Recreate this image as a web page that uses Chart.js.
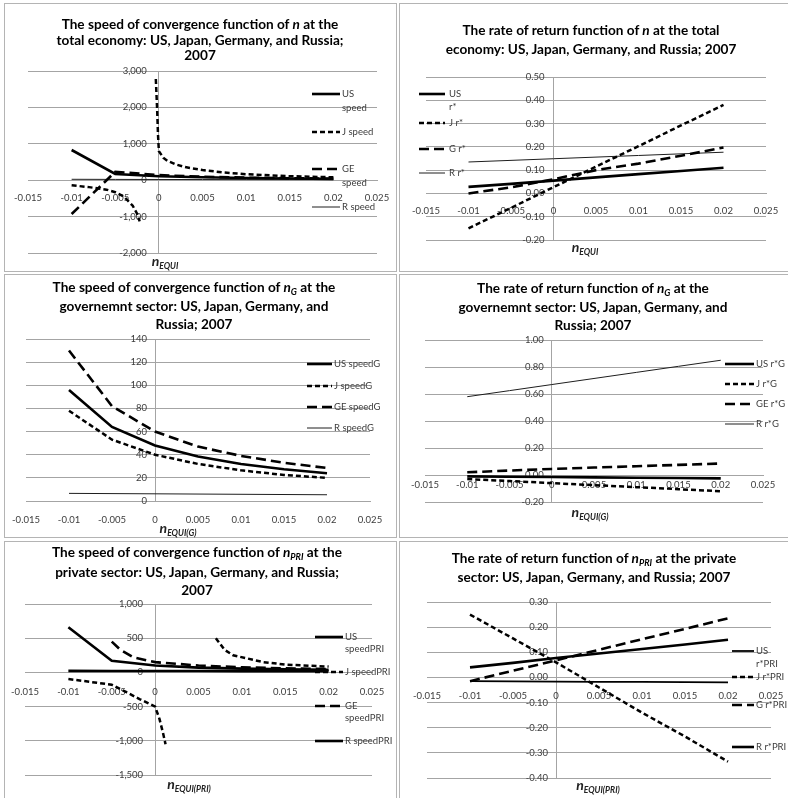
<!DOCTYPE html>
<html>
<head>
<meta charset="utf-8">
<script src="https://cdn.jsdelivr.net/npm/chart.js@4.4.1/dist/chart.umd.min.js"></script>
<style>
  body { margin: 0; background: #fff; width: 788px; height: 798px; overflow: hidden; position: relative; font-family: Lato, sans-serif; }
  .panel { position: absolute; border: 1px solid #b4b4b4; box-sizing: border-box; }
  canvas { position: absolute; }
  .ttl { position: absolute; transform: translate(-50%, -50%); white-space: nowrap; font-weight: bold; font-size: 13.6px; color: #000; line-height: 1; }
  .ttl sub { font-size: 9px; vertical-align: -3px; font-style: italic; }
  .axt { position: absolute; transform: translate(-50%, -50%); white-space: nowrap; font-weight: bold; font-style: italic; font-size: 14px; color: #222; line-height: 1; }
  .axt sub { font-size: 8.5px; vertical-align: -3px; }
</style>
</head>
<body>

<div class="panel" style="left:4px;top:3px;width:393px;height:269px"></div>
<div class="panel" style="left:399px;top:3px;width:395px;height:269px"></div>
<div class="panel" style="left:4px;top:274px;width:393px;height:264px"></div>
<div class="panel" style="left:399px;top:274px;width:395px;height:264px"></div>
<div class="panel" style="left:4px;top:541px;width:393px;height:270px"></div>
<div class="panel" style="left:399px;top:541px;width:395px;height:270px"></div>

<canvas id="c1" width="392" height="268" style="left:4px;top:3px"></canvas>
<canvas id="c2" width="389" height="268" style="left:399px;top:3px"></canvas>
<canvas id="c3" width="392" height="263" style="left:4px;top:274px"></canvas>
<canvas id="c4" width="389" height="263" style="left:399px;top:274px"></canvas>
<canvas id="c5" width="392" height="257" style="left:4px;top:541px"></canvas>
<canvas id="c6" width="389" height="257" style="left:399px;top:541px"></canvas>

<div class="ttl" style="left:200px;top:25px">The speed of convergence function of <i>n</i> at the</div>
<div class="ttl" style="left:200px;top:41px">total economy: US, Japan, Germany, and Russia;</div>
<div class="ttl" style="left:200px;top:56px">2007</div>

<div class="ttl" style="left:591px;top:31px">The rate of return function of <i>n</i> at the total</div>
<div class="ttl" style="left:591px;top:50px">economy: US, Japan, Germany, and Russia; 2007</div>

<div class="ttl" style="left:194px;top:288px">The speed of convergence function of <i>n</i><sub>G</sub> at the</div>
<div class="ttl" style="left:194px;top:307px">governemnt sector: US, Japan, Germany, and</div>
<div class="ttl" style="left:194px;top:325px">Russia; 2007</div>

<div class="ttl" style="left:593px;top:289px">The rate of return function of <i>n</i><sub>G</sub> at the</div>
<div class="ttl" style="left:593px;top:308px">governemnt sector: US, Japan, Germany, and</div>
<div class="ttl" style="left:593px;top:326px">Russia; 2007</div>

<div class="ttl" style="left:197px;top:553px">The speed of convergence function of <i>n</i><sub>PRI</sub> at the</div>
<div class="ttl" style="left:197px;top:573px">private sector: US, Japan, Germany, and Russia;</div>
<div class="ttl" style="left:197px;top:591px">2007</div>

<div class="ttl" style="left:594px;top:559px">The rate of return function of <i>n</i><sub>PRI</sub> at the private</div>
<div class="ttl" style="left:594px;top:578px">sector: US, Japan, Germany, and Russia; 2007</div>

<div class="axt" style="left:165px;top:262px">n<sub>EQUI</sub></div>
<div class="axt" style="left:585px;top:248px">n<sub>EQUI</sub></div>
<div class="axt" style="left:178px;top:529px">n<sub>EQUI(G)</sub></div>
<div class="axt" style="left:590px;top:513px">n<sub>EQUI(G)</sub></div>
<div class="axt" style="left:189px;top:785px">n<sub>EQUI(PRI)</sub></div>
<div class="axt" style="left:598px;top:786px">n<sub>EQUI(PRI)</sub></div>

<script>
// ---- growth-rate grid shared by most series ----
const nGrid = [-0.01, -0.005, 0, 0.005, 0.01, 0.015, 0.02];
const xTickLabels = ['-0.015', '-0.01', '-0.005', '0', '0.005', '0.01', '0.015', '0.02', '0.025'];

// ---- total economy: speed of convergence ----
const speedNames = ['US speed', 'J speed', 'GE speed', 'R speed'];
const usSpeed = [830, 170, 110, 80, 60, 45, 35];
const jSpeedX = [-0.01, -0.008, -0.006, -0.005, -0.004, -0.003, -0.0025, -0.0022, -0.001,
                 -0.00035, -0.0002, -0.0001, 0, 0.0005, 0.001, 0.002, 0.003, 0.005, 0.0075, 0.01, 0.015, 0.02];
const jSpeed = [-140, -190, -260, -330, -450, -700, -920, -1130, null,
                2780, 1950, 1250, 800, 620, 530, 430, 360, 280, 210, 165, 110, 80];
const geSpeed = [-930, 230, 140, 95, 70, 55, 45];
const ruSpeed = [25, 22, 20, 18, 17, 16, 15];
const speedTicks = ['-2,000', '-1,000', '0', '1,000', '2,000', '3,000'];

// ---- total economy: rate of return ----
const rNames = ['US r*', 'J r*', 'G r*', 'R r*'];
const usR = [0.028, 0.041, 0.055, 0.069, 0.083, 0.096, 0.11];
const jR = [-0.15, -0.062, 0.027, 0.115, 0.203, 0.292, 0.38];
const geR = [0.0, 0.026, 0.061, 0.10, 0.128, 0.162, 0.197];
const ruR = [0.135, 0.142, 0.149, 0.156, 0.163, 0.170, 0.177];
const rTicks = ['-0.20', '-0.10', '0.00', '0.10', '0.20', '0.30', '0.40', '0.50'];

// ---- government sector: speed of convergence ----
const speedGNames = ['US speedG', 'J speedG', 'GE speedG', 'R speedG'];
const usSpeedG = [96, 64, 48, 38.4, 32, 27.4, 24];
const jSpeedG = [78, 53, 40, 32, 26.5, 22.5, 20];
const geSpeedG = [130, 82, 60, 47, 39, 33, 28.5];
const ruSpeedG = [6.6, 6.4, 6.2, 6.0, 5.8, 5.6, 5.4];
const speedGTicks = ['0', '20', '40', '60', '80', '100', '120', '140'];

// ---- government sector: rate of return ----
const rGNames = ['US r*G', 'J r*G', 'GE r*G', 'R r*G'];
const usRG = [-0.01, -0.0125, -0.015, -0.0175, -0.02, -0.0225, -0.025];
const jRG = [-0.03, -0.045, -0.06, -0.075, -0.09, -0.105, -0.12];
const geRG = [0.02, 0.033, 0.045, 0.055, 0.065, 0.075, 0.085];
const ruRG = [0.58, 0.625, 0.67, 0.715, 0.76, 0.805, 0.85];
const rGTicks = ['-0.20', '0.00', '0.20', '0.40', '0.60', '0.80', '1.00'];

// ---- private sector: speed of convergence ----
const speedPriNames = ['US speedPRI', 'J speedPRI', 'GE speedPRI', 'R speedPRI'];
const usSpeedPri = [660, 170, 100, 70, 55, 45, 38];
const jSpeedPriX = [-0.01, -0.005, -0.0033, -0.0018, 0, 0.0005, 0.0009, 0.0012, 0.004,
                    0.007, 0.008, 0.009, 0.0125, 0.015, 0.02];
const jSpeedPri = [-97, -180, -290, -390, -500, -680, -880, -1050, null,
                   500, 330, 250, 150, 115, 85];
const geSpeedPriX = [-0.005, -0.004, -0.0025, 0, 0.005, 0.01, 0.015, 0.02];
const geSpeedPri = [450, 330, 220, 150, 100, 75, 60, 50];
const ruSpeedPri = [22, 21, 20, 20, 19, 19, 18];
const speedPriTicks = ['-1,500', '-1,000', '-500', '0', '500', '1,000'];

// ---- private sector: rate of return ----
const rPriNames = ['US r*PRI', 'J r*PRI', 'G r*PRI', 'R r*PRI'];
const usRPri = [-0.015, -0.016, -0.017, -0.018, -0.018, -0.019, -0.02];
const jRPri = [0.25, 0.155, 0.06, -0.04, -0.14, -0.235, -0.335];
const geRPri = [-0.015, 0.027, 0.068, 0.11, 0.152, 0.193, 0.235];
const ruRPri = [0.04, 0.058, 0.077, 0.095, 0.113, 0.131, 0.15];
const rPriTicks = ['-0.40', '-0.30', '-0.20', '-0.10', '0.00', '0.10', '0.20', '0.30'];

// ---- line styles ----
const SOLID = { borderColor: '#000', borderWidth: 2.6, borderDash: [] };
const SHORT = { borderColor: '#000', borderWidth: 2.5, borderDash: [5, 3] };
const LONG = { borderColor: '#000', borderWidth: 2.6, borderDash: [10, 5] };
const THIN = { borderColor: '#1e1e1e', borderWidth: 1, borderDash: [] };
const MEDIUM = { borderColor: '#000', borderWidth: 1.8, borderDash: [] };

const TICK_COLOR = '#3c3c3c';
const GRID_COLOR = '#a4a4a4';
const FONT = 'Lato, sans-serif';

function series(label, xs, ys, style) {
  return Object.assign({
    label,
    data: xs.map((x, i) => ({ x, y: ys[i] })),
    showLine: true, pointRadius: 0, pointHoverRadius: 0, fill: false,
    tension: 0, spanGaps: false, borderCapStyle: 'butt'
  }, style);
}

// Tick labels placed next to axes that cross at zero (value axis left of x=0, category labels under y=0)
const crossingLabels = {
  id: 'crossingLabels',
  beforeDatasetsDraw(chart, args, o) {
    if (!o || !o.yLabels) return;
    const { ctx, scales: { x, y } } = chart;
    const x0 = x.getPixelForValue(0);
    const y0 = y.getPixelForValue(0);
    ctx.save();
    ctx.font = '9.5px ' + FONT;
    ctx.fillStyle = TICK_COLOR;
    ctx.textBaseline = 'middle';
    ctx.textAlign = 'center';
    x.ticks.forEach((t, i) => ctx.fillText(xTickLabels[i], x.getPixelForValue(t.value), y0 + o.xOff));
    ctx.textAlign = 'right';
    y.ticks.forEach((t, i) => ctx.fillText(o.yLabels[i], x0 - o.yGap, y.getPixelForValue(t.value)));
    ctx.restore();
  }
};

// Legend drawn over the plot: sample line + (optionally wrapped) label
const panelLegend = {
  id: 'panelLegend',
  afterDatasetsDraw(chart, args, o) {
    if (!o || !o.rows) return;
    const ctx = chart.ctx;
    ctx.save();
    ctx.font = '9.5px ' + FONT;
    ctx.fillStyle = TICK_COLOR;
    ctx.textBaseline = 'middle';
    ctx.textAlign = 'left';
    chart.data.datasets.forEach((ds, i) => {
      const y = o.rows[i];
      ctx.strokeStyle = ds.borderColor;
      ctx.lineWidth = ds.borderWidth;
      ctx.setLineDash(ds.borderDash || []);
      ctx.beginPath();
      ctx.moveTo(o.x1, y);
      ctx.lineTo(o.x2, y);
      ctx.stroke();
      let lines = [ds.label];
      if (o.wrap[i]) {
        const k = ds.label.indexOf(' ');
        lines = [ds.label.slice(0, k), ds.label.slice(k + 1)];
      }
      lines.forEach((t, j) => ctx.fillText(t, o.tx, y + j * o.lh));
    });
    ctx.restore();
  }
};

function makeChart(id, datasets, p) {
  new Chart(document.getElementById(id), {
    type: 'scatter',
    data: { datasets },
    plugins: [crossingLabels, panelLegend],
    options: {
      responsive: false,
      animation: false,
      events: [],
      layout: { padding: p.pad },
      plugins: {
        legend: { display: false }, tooltip: { enabled: false },
        panelLegend: p.legend,
        crossingLabels: { yLabels: p.yLabels, xOff: p.xOff, yGap: p.yGap }
      },
      scales: {
        x: {
          type: 'linear', min: -0.015, max: 0.025,
          position: { y: 0 },
          grid: { display: false, drawTicks: false },
          border: { display: true, color: GRID_COLOR, width: 1 },
          ticks: { stepSize: 0.005, autoSkip: false, maxRotation: 0, display: false }
        },
        y: {
          type: 'linear', min: p.ymin, max: p.ymax,
          position: { x: 0 },
          grid: { display: true, color: GRID_COLOR, lineWidth: 1, drawTicks: false },
          border: { display: true, color: GRID_COLOR, width: 1 },
          ticks: { stepSize: p.ystep, autoSkip: false, display: false }
        }
      }
    }
  });
}

makeChart('c1', [
  series(speedNames[0], nGrid, usSpeed, SOLID),
  series(speedNames[1], jSpeedX, jSpeed, SHORT),
  series(speedNames[2], nGrid, geSpeed, LONG),
  series(speedNames[3], nGrid, ruSpeed, THIN)
], {
  pad: { left: 24, top: 68, right: 19, bottom: 18 },
  ymin: -2000, ymax: 3000, ystep: 1000, yLabels: speedTicks, xOff: 18, yGap: 12,
  legend: { x1: 308, x2: 336, tx: 338, rows: [91, 129, 166, 204], wrap: [true, false, true, false], lh: 14 }
});

makeChart('c2', [
  series(rNames[0], nGrid, usR, SOLID),
  series(rNames[1], nGrid, jR, SHORT),
  series(rNames[2], nGrid, geR, LONG),
  series(rNames[3], nGrid, ruR, THIN)
], {
  pad: { left: 27, top: 74, right: 22, bottom: 31 },
  ymin: -0.2, ymax: 0.5, ystep: 0.1, yLabels: rTicks, xOff: 18, yGap: 9,
  legend: { x1: 20, x2: 46, tx: 50, rows: [91, 120, 146, 170], wrap: [true, false, false, false], lh: 13 }
});

makeChart('c3', [
  series(speedGNames[0], nGrid, usSpeedG, SOLID),
  series(speedGNames[1], nGrid, jSpeedG, SHORT),
  series(speedGNames[2], nGrid, geSpeedG, LONG),
  series(speedGNames[3], nGrid, ruSpeedG, THIN)
], {
  pad: { left: 22, top: 65, right: 26, bottom: 36 },
  ymin: 0, ymax: 140, ystep: 20, yLabels: speedGTicks, xOff: 19, yGap: 8,
  legend: { x1: 303, x2: 328, tx: 330, rows: [90, 112, 133, 154], wrap: [false, false, false, false], lh: 13 }
});

makeChart('c4', [
  series(rGNames[0], nGrid, usRG, SOLID),
  series(rGNames[1], nGrid, jRG, SHORT),
  series(rGNames[2], nGrid, geRG, LONG),
  series(rGNames[3], nGrid, ruRG, THIN)
], {
  pad: { left: 26, top: 66, right: 25, bottom: 35 },
  ymin: -0.2, ymax: 1.0, ystep: 0.2, yLabels: rGTicks, xOff: 10, yGap: 8,
  legend: { x1: 326, x2: 355, tx: 357, rows: [90, 110, 130, 150], wrap: [false, false, false, false], lh: 13 }
});

makeChart('c5', [
  series(speedPriNames[0], nGrid, usSpeedPri, SOLID),
  series(speedPriNames[1], jSpeedPriX, jSpeedPri, SHORT),
  series(speedPriNames[2], geSpeedPriX, geSpeedPri, LONG),
  series(speedPriNames[3], nGrid, ruSpeedPri, SOLID)
], {
  pad: { left: 21, top: 63, right: 24, bottom: 23 },
  ymin: -1500, ymax: 1000, ystep: 500, yLabels: speedPriTicks, xOff: 20, yGap: 12,
  legend: { x1: 311, x2: 339, tx: 341, rows: [96, 131, 165, 200], wrap: [true, false, true, false], lh: 12 }
});

makeChart('c6', [
  series(rPriNames[0], nGrid, usRPri, MEDIUM),
  series(rPriNames[1], nGrid, jRPri, SHORT),
  series(rPriNames[2], nGrid, geRPri, LONG),
  series(rPriNames[3], nGrid, ruRPri, SOLID)
], {
  pad: { left: 28, top: 61, right: 17, bottom: 20 },
  ymin: -0.4, ymax: 0.3, ystep: 0.1, yLabels: rPriTicks, xOff: 19, yGap: 8,
  legend: { x1: 333, x2: 355, tx: 357, rows: [110, 136, 164, 206], wrap: [true, false, false, false], lh: 13 }
});
</script>
</body>
</html>
